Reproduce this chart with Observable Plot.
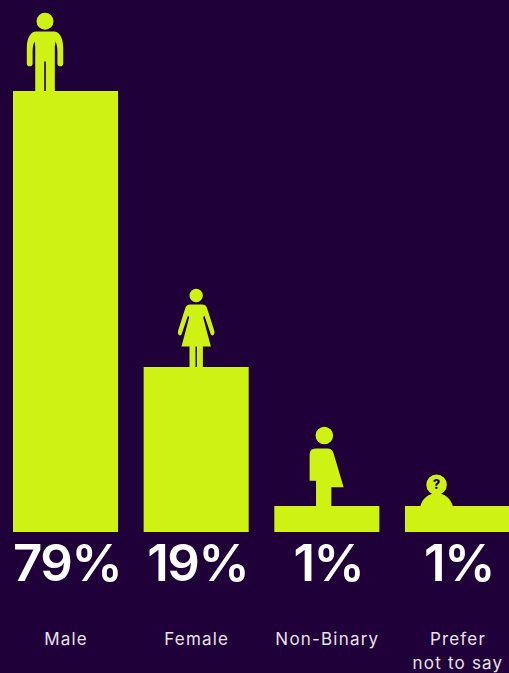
<!DOCTYPE html>
<html>
<head>
<meta charset="utf-8">
<script src="https://cdn.jsdelivr.net/npm/d3@7"></script>
<script src="https://cdn.jsdelivr.net/npm/@observablehq/plot@0.6"></script>
<style>
html,body{margin:0;padding:0;background:#200038;overflow:hidden}
svg{display:block}
</style>
</head>
<body>
<div id="chart"></div>
<script>
const categories = ["Male", "Female", "Non-Binary", "Prefer\nnot to say"];
const shares = [79, 19, 1, 1];
// The bars in the picture are not proportional to the shares: lengths as drawn.
const barLengths = [441, 165, 26, 26];
const ink = "#cdf213";
const bg = "#200038";
const rows = categories.map((c, i) => ({category: c, share: shares[i], length: barLengths[i]}));

function head(ctx, x, y, r) {
  ctx.moveTo(x + r, y);
  ctx.arc(x, y, r, 0, 2 * Math.PI);
  ctx.closePath();
}
const maleIcon = {draw(c) {
  const ox = -21;
  head(c, ox, -70.3, 8.5);
  const side = s => {
    c.moveTo(ox, -60);
    c.lineTo(ox + s * 9, -60);
    c.bezierCurveTo(ox + s * 14, -60, ox + s * 18.2, -54, ox + s * 18.2, -44);
    c.lineTo(ox + s * 18.2, -28);
    c.bezierCurveTo(ox + s * 18.2, -24.2, ox + s * 12.4, -24.2, ox + s * 12.4, -28);
    c.lineTo(ox + s * 12.4, -40);
    c.bezierCurveTo(ox + s * 12.4, -45, ox + s * 11.5, -48, ox + s * 10.5, -50);
    c.lineTo(ox + s * 9.8, -45);
    c.lineTo(ox + s * 9.8, 0);
    c.lineTo(ox + s * 0.8, 0);
    c.lineTo(ox + s * 0.8, -30);
    c.lineTo(ox, -30);
    c.closePath();
  };
  side(1); side(-1);
}};
const femaleIcon = {draw(c) {
  const ox = -0.5;
  head(c, ox, -72, 6.7);
  const side = s => {
    c.moveTo(ox, -63);
    c.lineTo(ox + s * 6, -63);
    c.quadraticCurveTo(ox + s * 10, -63, ox + s * 11, -59);
    c.lineTo(ox + s * 18, -37);
    c.quadraticCurveTo(ox + s * 19, -33, ox + s * 16.5, -32);
    c.quadraticCurveTo(ox + s * 14.5, -32, ox + s * 14, -35);
    c.lineTo(ox + s * 8.2, -52);
    c.lineTo(ox + s * 7, -50);
    c.lineTo(ox + s * 14.7, -21);
    c.lineTo(ox + s * 6.7, -21);
    c.lineTo(ox + s * 6.7, 0);
    c.lineTo(ox + s * 0.7, 0);
    c.lineTo(ox + s * 0.7, -21);
    c.lineTo(ox, -21);
    c.closePath();
  };
  side(1); side(-1);
}};
const nonBinaryIcon = {draw(c) {
  const ox = -3;
  head(c, ox, -71, 8.8);
  c.moveTo(ox - 8.3, 0);
  c.lineTo(ox - 8.3, -25.7);
  c.lineTo(ox - 14.7, -25.7);
  c.lineTo(ox - 14.7, -52);
  c.quadraticCurveTo(ox - 14.7, -58, ox - 8.7, -58);
  c.lineTo(ox + 3, -58);
  c.quadraticCurveTo(ox + 8, -58, ox + 9.3, -53);
  c.lineTo(ox + 19.3, -19.3);
  c.lineTo(ox + 7, -19.3);
  c.lineTo(ox + 7, 0);
  c.closePath();
}};
const unknownIcon = {draw(c) {
  const ox = -21.4;
  head(c, ox, -21.7, 10.3);
  c.moveTo(ox - 16.3, 0);
  c.arc(ox, 3.3, 16.6, Math.PI + 0.2, -0.2);
  c.closePath();
}};
const icons = [maleIcon, femaleIcon, nonBinaryIcon, unknownIcon];

const chart = Plot.plot({
  width: 509,
  height: 673,
  margin: 0,
  style: {background: bg, fontFamily: "Inter, sans-serif"},
  x: {domain: categories, range: [13, 510], paddingInner: 0.196, paddingOuter: 0, round: false, axis: null},
  y: {domain: [0, 532], range: [532, 0], axis: null},
  marks: [
    Plot.barY(rows, {x: "category", y: "length", fill: ink}),
    ...icons.map((symbol, i) =>
      Plot.dot([rows[i]], {x: "category", y: "length", r: 1, symbol, fill: ink, stroke: "none"})
    ),
    Plot.text([rows[3]], {
      x: "category", y: "length", text: () => "?", dx: -21.4, dy: -21.7,
      fill: bg, fontSize: 13, fontWeight: 800, fontFamily: "Inter, sans-serif"
    }),
    Plot.text(rows, {
      x: "category", y: () => 0, text: d => d.share + "%", dx: 1, dy: 32,
      fill: "white", fontSize: 51, fontWeight: 600, fontFamily: "Inter, sans-serif"
    }),
    Plot.text(rows, {
      x: "category", y: () => 0, text: "category", dy: 95.8, lineAnchor: "top", lineHeight: 1.4,
      fill: "#e8e2ec", fontSize: 17, fontFamily: "Inter, sans-serif"
    })
  ]
});
// Tracking of the two text tiers: the Plot text mark has no letter-spacing option.
d3.select(chart).selectAll("text").each(function () {
  const size = +(this.closest("[font-size]")?.getAttribute("font-size"));
  if (size === 51) this.style.letterSpacing = "-1.5px";
  if (size === 17) this.style.letterSpacing = "1.2px";
});
document.getElementById("chart").appendChild(chart);
</script>
</body>
</html>
